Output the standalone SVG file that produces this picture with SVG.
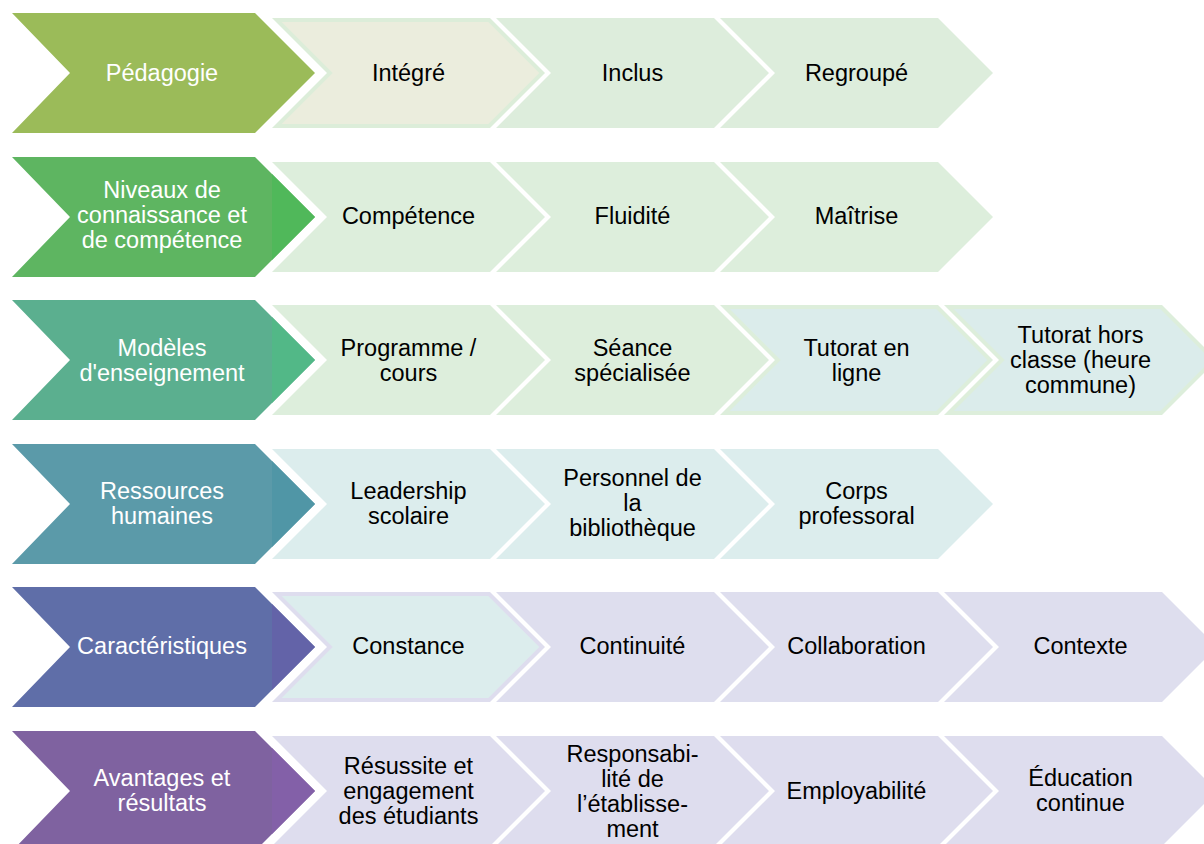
<svg xmlns="http://www.w3.org/2000/svg" xmlns:xlink="http://www.w3.org/1999/xlink" width="1204" height="844" viewBox="0 0 1204 844">
<defs>
<style>
text{font-family:"Liberation Sans",Arial,sans-serif;font-size:23.5px;text-anchor:middle}
.w{fill:#ffffff}
.k{fill:#000000}
</style>
<path id="big" d="M0,0 H243 L303,60 L243,120 H0 L58,60 Z"/>
<path id="tip" d="M260,17 L303,60 L260,103 Z"/>
<path id="sm" d="M0,0 H218 L273,55 L218,110 H0 L55,55 Z"/>
<path id="smi" d="M9.7,4 H216.3 L267.3,55 L216.3,106 H9.7 L60.7,55 Z"/>
</defs>
<rect width="1204" height="844" fill="#ffffff"/>

<!-- Row 1 -->
<g id="r1-s1" transform="translate(272,18)"><use xlink:href="#sm" fill="#DCEDD9"/><use xlink:href="#smi" fill="#EBEDDD"/><text class="k" x="136.5" y="63">Intégré</text></g>
<g id="r1-s2" transform="translate(496,18)"><use xlink:href="#sm" fill="#DDEDDC"/><text class="k" x="136.5" y="63">Inclus</text></g>
<g id="r1-s3" transform="translate(720,18)"><use xlink:href="#sm" fill="#DDEDDC"/><text class="k" x="136.5" y="63">Regroupé</text></g>
<g id="r1-main" transform="translate(12,13)"><use xlink:href="#big" fill="#9BBB59"/><text class="w" x="150" y="68">Pédagogie</text></g>

<!-- Row 2 -->
<g id="r2-s1" transform="translate(272,162)"><use xlink:href="#sm" fill="#DDEEDC"/><text class="k" x="136.5" y="62">Compétence</text></g>
<g id="r2-s2" transform="translate(496,162)"><use xlink:href="#sm" fill="#DDEEDC"/><text class="k" x="136.5" y="62">Fluidité</text></g>
<g id="r2-s3" transform="translate(720,162)"><use xlink:href="#sm" fill="#DDEEDC"/><text class="k" x="136.5" y="62">Maîtrise</text></g>
<g id="r2-main" transform="translate(12,157)"><use xlink:href="#big" fill="#5EB561"/><use xlink:href="#tip" fill="#50B85A"/><text class="w" x="150" y="41">Niveaux de</text><text class="w" x="150" y="66">connaissance et</text><text class="w" x="150" y="91">de compétence</text></g>

<!-- Row 3 -->
<g id="r3-s1" transform="translate(272,305)"><use xlink:href="#sm" fill="#DDEEDC"/><text class="k" x="136.5" y="50.5">Programme /</text><text class="k" x="136.5" y="75.5">cours</text></g>
<g id="r3-s2" transform="translate(496,305)"><use xlink:href="#sm" fill="#DDEEDC"/><text class="k" x="136.5" y="50.5">Séance</text><text class="k" x="136.5" y="75.5">spécialisée</text></g>
<g id="r3-s3" transform="translate(720,305)"><use xlink:href="#sm" fill="#DDEEDB"/><use xlink:href="#smi" fill="#DBECEB"/><text class="k" x="136.5" y="50.5">Tutorat en</text><text class="k" x="136.5" y="75.5">ligne</text></g>
<g id="r3-s4" transform="translate(944,305)"><use xlink:href="#sm" fill="#DDEEDB"/><use xlink:href="#smi" fill="#DBECEB"/><text class="k" x="136.5" y="38">Tutorat hors</text><text class="k" x="136.5" y="63">classe (heure</text><text class="k" x="136.5" y="88">commune)</text></g>
<g id="r3-main" transform="translate(12,300)"><use xlink:href="#big" fill="#5BAF8F"/><use xlink:href="#tip" fill="#52B887"/><text class="w" x="150" y="55.5">Modèles</text><text class="w" x="150" y="80.5">d'enseignement</text></g>

<!-- Row 4 -->
<g id="r4-s1" transform="translate(272,449)"><use xlink:href="#sm" fill="#DCEDED"/><text class="k" x="136.5" y="50">Leadership</text><text class="k" x="136.5" y="75">scolaire</text></g>
<g id="r4-s2" transform="translate(496,449)"><use xlink:href="#sm" fill="#DCEDED"/><text class="k" x="136.5" y="37">Personnel de</text><text class="k" x="136.5" y="62">la</text><text class="k" x="136.5" y="87">bibliothèque</text></g>
<g id="r4-s3" transform="translate(720,449)"><use xlink:href="#sm" fill="#DCEDED"/><text class="k" x="136.5" y="50">Corps</text><text class="k" x="136.5" y="75">professoral</text></g>
<g id="r4-main" transform="translate(12,444)"><use xlink:href="#big" fill="#5B9AA9"/><use xlink:href="#tip" fill="#5096A6"/><text class="w" x="150" y="55">Ressources</text><text class="w" x="150" y="80">humaines</text></g>

<!-- Row 5 -->
<g id="r5-s1" transform="translate(272,592)"><use xlink:href="#sm" fill="#DEDDEE"/><use xlink:href="#smi" fill="#DCEDED"/><text class="k" x="136.5" y="62">Constance</text></g>
<g id="r5-s2" transform="translate(496,592)"><use xlink:href="#sm" fill="#DEDEEE"/><text class="k" x="136.5" y="62">Continuité</text></g>
<g id="r5-s3" transform="translate(720,592)"><use xlink:href="#sm" fill="#DEDEEE"/><text class="k" x="136.5" y="62">Collaboration</text></g>
<g id="r5-s4" transform="translate(944,592)"><use xlink:href="#sm" fill="#DEDEEE"/><text class="k" x="136.5" y="62">Contexte</text></g>
<g id="r5-main" transform="translate(12,587)"><use xlink:href="#big" fill="#5F6EA8"/><use xlink:href="#tip" fill="#6363A8"/><text class="w" x="150" y="67">Caractéristiques</text></g>

<!-- Row 6 -->
<g id="r6-s1" transform="translate(272,736)"><use xlink:href="#sm" fill="#DEDDEE"/><text class="k" x="136.5" y="37.5">Résussite et</text><text class="k" x="136.5" y="62.5">engagement</text><text class="k" x="136.5" y="87.5">des étudiants</text></g>
<g id="r6-s2" transform="translate(496,736)"><use xlink:href="#sm" fill="#DEDDEE"/><text class="k" x="136.5" y="26">Responsabi-</text><text class="k" x="136.5" y="51">lité de</text><text class="k" x="136.5" y="76">l’établisse-</text><text class="k" x="136.5" y="101">ment</text></g>
<g id="r6-s3" transform="translate(720,736)"><use xlink:href="#sm" fill="#DEDDEE"/><text class="k" x="136.5" y="62.5">Employabilité</text></g>
<g id="r6-s4" transform="translate(944,736)"><use xlink:href="#sm" fill="#DEDDEE"/><text class="k" x="136.5" y="49.5">Éducation</text><text class="k" x="136.5" y="74.5">continue</text></g>
<g id="r6-main" transform="translate(12,731)"><use xlink:href="#big" fill="#7F62A0"/><use xlink:href="#tip" fill="#8360A8"/><text class="w" x="150" y="55">Avantages et</text><text class="w" x="150" y="80">résultats</text></g>

<g id="connectors"></g>
</svg>
